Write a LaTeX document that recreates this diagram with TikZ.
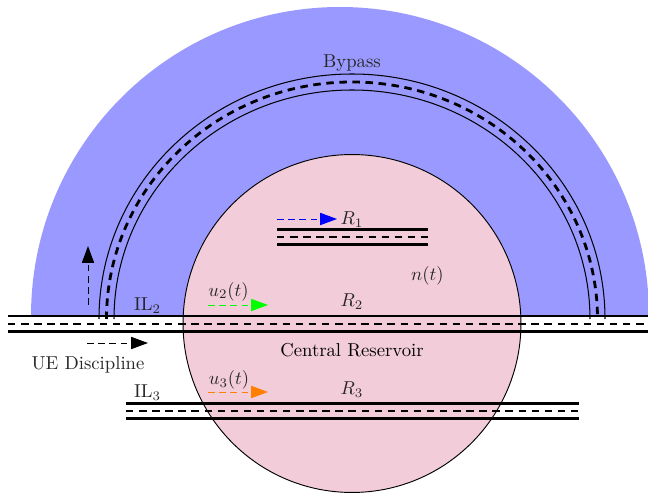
\documentclass[tikz,border=0pt]{standalone}
\usetikzlibrary{arrows.meta}
\begin{document}
\begin{tikzpicture}[x=0.535pt,y=-0.535pt,
  lbl/.style={text=black!85, inner sep=0pt},
  roadline/.style={line width=1.2pt},
  midline/.style={line width=1.5pt, dash pattern=on 4pt off 3pt},
  bypassline/.style={line width=0.55pt},
  flow/.style={line width=0.5pt, dash pattern=on 3.5pt off 2.5pt, -{Triangle[length=9pt,width=6.5pt]}}]
\useasboundingbox (0,0) rectangle (648,493);
% blue area
\fill[blue!40] (31,316) arc[start angle=180,end angle=360,radius=309] -- cycle;
% reservoir
\node[circle, draw, line width=0.5pt, fill=purple!20, minimum size=180.8pt, inner sep=0pt] (res) at (352,323.5) {};
% bypass
\draw[bypassline] (99,319) arc[start angle=180,end angle=360,x radius=253,y radius=245];
\draw[midline] (106.5,319) arc[start angle=180,end angle=360,x radius=245.5,y radius=237];
\draw[bypassline] (114,319) arc[start angle=180,end angle=360,x radius=238,y radius=229];
% main road IL2
\draw[roadline] (8,316) -- (648,316);
\draw[midline] (8,324) -- (648,324);
\draw[roadline] (8,331.5) -- (648,331.5);
% R1 road
\draw[roadline] (277,229.5) -- (428,229.5);
\draw[midline] (277,237) -- (428,237);
\draw[roadline] (277,244.5) -- (428,244.5);
% IL3 road
\draw[roadline] (126,403.5) -- (579,403.5);
\draw[midline] (126,411) -- (579,411);
\draw[roadline] (126,418.5) -- (579,418.5);
% labels
\node[lbl] (bypass) at (352,63) {Bypass};
\node[lbl] (r1) at (352,220) {$R_1$};
\node[lbl] (nt) at (427.5,275.5) {$n(t)$};
\node[lbl] (u2) at (228.5,291.5) {$u_2(t)$};
\node[lbl] (r2) at (352,302) {$R_2$};
\node[lbl] (il2) at (147.5,305.5) {IL$_2$};
\node[inner sep=0pt] (cr) at (352,350) {Central Reservoir};
\node[lbl] (ue) at (88,364.5) {UE Discipline};
\node[lbl] (u3) at (229,380) {$u_3(t)$};
\node[lbl] (il3) at (147.5,392.5) {IL$_3$};
\node[lbl] (r3) at (352,390) {$R_3$};
% arrows
\coordinate (b1) at (277,219); \coordinate (b2) at (337,219);
\draw[flow, blue] (b1) -- (b2);
\coordinate (g1) at (208,305); \coordinate (g2) at (268,305);
\draw[flow, green] (g1) -- (g2);
\coordinate (o1) at (208,392); \coordinate (o2) at (268,392);
\draw[flow, orange] (o1) -- (o2);
\coordinate (h1) at (87,343); \coordinate (h2) at (148,343);
\draw[flow] (h1) -- (h2);
\coordinate (v1) at (88,305); \coordinate (v2) at (88,246);
\draw[flow] (v1) -- (v2);
\end{tikzpicture}
\end{document}
